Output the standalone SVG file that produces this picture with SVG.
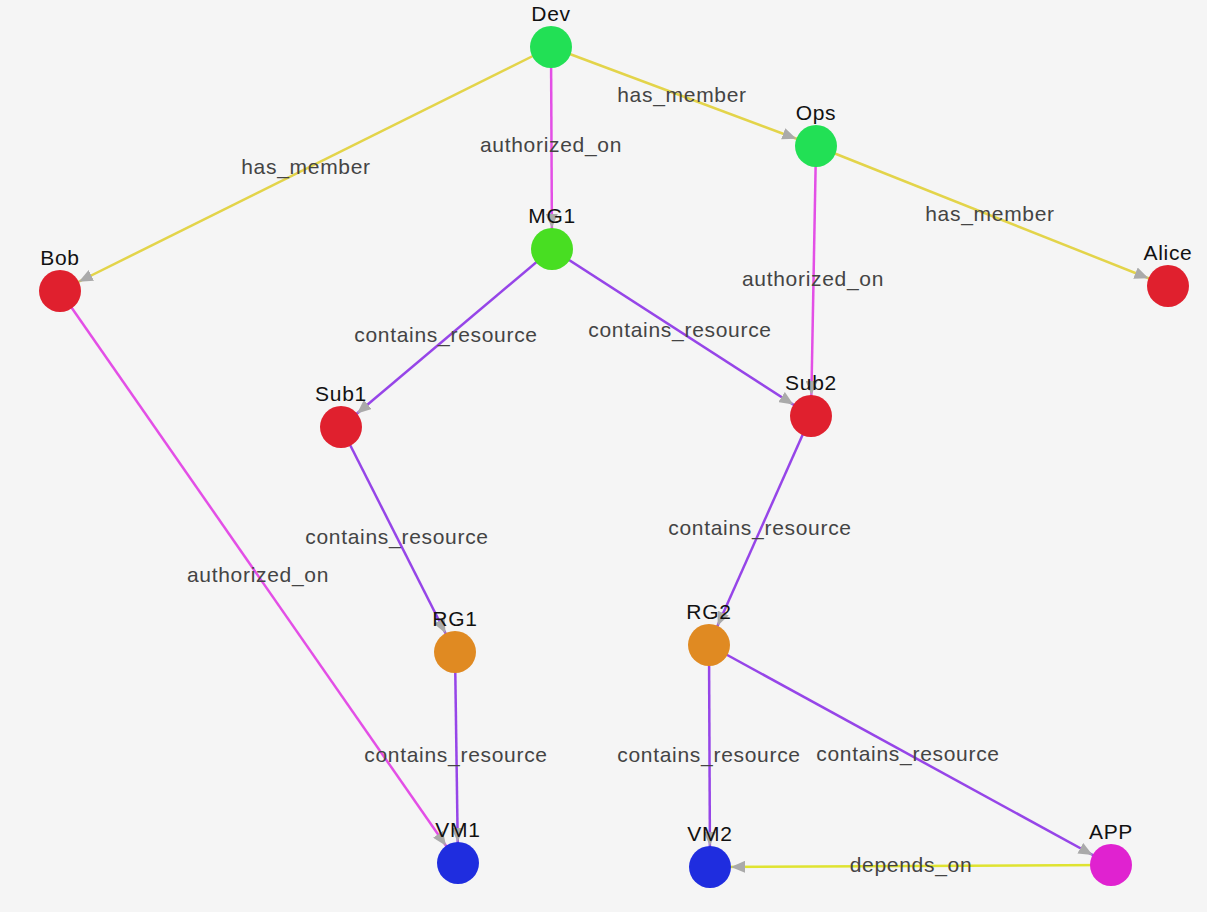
<svg xmlns="http://www.w3.org/2000/svg" width="1207" height="912" viewBox="0 0 1207 912">
<style>
.bg{fill:#f5f5f5}
.e{stroke-width:2.5;fill:none;marker-end:url(#arr)}
.hm{stroke:#e3d44a}
.au{stroke:#e34fe6}
.cr{stroke:#9645e8}
.dp{stroke:#dfe330}
.el{font-family:"Liberation Sans",Arial,sans-serif;font-size:21px;letter-spacing:0.7px;fill:#444;text-anchor:middle}
.nl{font-family:"Liberation Sans",Arial,sans-serif;font-size:21px;letter-spacing:0.7px;fill:#111;text-anchor:middle}
.green{fill:#22e055}
.lime{fill:#48de22}
.red{fill:#e0202e}
.orange{fill:#e08a22}
.blue{fill:#1f2ddf}
.mag{fill:#e022d0}
</style>
<defs>
<marker id="arr" viewBox="0 0 14 12" markerUnits="userSpaceOnUse" markerWidth="14" markerHeight="12" refX="35" refY="6" orient="auto">
<path d="M0,0 L14,6 L0,12 z" fill="#aaaaaa"/>
</marker>
</defs>
<rect class="bg" x="0" y="0" width="1207" height="912"/>
<g id="connectors">
<line class="e hm" x1="551" y1="47" x2="60" y2="291"/>
<line class="e hm" x1="551" y1="47" x2="816" y2="146"/>
<line class="e au" x1="551" y1="47" x2="552" y2="249"/>
<line class="e hm" x1="816" y1="146" x2="1168" y2="286"/>
<line class="e au" x1="816" y1="146" x2="811" y2="416"/>
<line class="e cr" x1="552" y1="249" x2="341" y2="427"/>
<line class="e cr" x1="552" y1="249" x2="811" y2="416"/>
<line class="e cr" x1="341" y1="427" x2="455" y2="652"/>
<line class="e cr" x1="811" y1="416" x2="709" y2="645"/>
<line class="e au" x1="60" y1="291" x2="458" y2="863"/>
<line class="e cr" x1="455" y1="652" x2="458" y2="863"/>
<line class="e cr" x1="709" y1="645" x2="710" y2="867"/>
<line class="e cr" x1="709" y1="645" x2="1111" y2="865"/>
<line class="e dp" x1="1111" y1="865" x2="710" y2="867"/>
<text class="el" x="306" y="174">has_member</text>
<text class="el" x="682" y="102">has_member</text>
<text class="el" x="551" y="152">authorized_on</text>
<text class="el" x="990" y="221">has_member</text>
<text class="el" x="813" y="286">authorized_on</text>
<text class="el" x="446" y="342">contains_resource</text>
<text class="el" x="680" y="337">contains_resource</text>
<text class="el" x="397" y="544">contains_resource</text>
<text class="el" x="760" y="535">contains_resource</text>
<text class="el" x="258" y="582">authorized_on</text>
<text class="el" x="456" y="762">contains_resource</text>
<text class="el" x="709" y="762">contains_resource</text>
<text class="el" x="908" y="761">contains_resource</text>
<text class="el" x="911" y="872">depends_on</text>
</g>
<g id="node-Dev"><circle class="green" cx="551" cy="47" r="21"/><text class="nl" x="551" y="21">Dev</text></g>
<g id="node-Ops"><circle class="green" cx="816" cy="146" r="21"/><text class="nl" x="816" y="120">Ops</text></g>
<g id="node-MG1"><circle class="lime" cx="552" cy="249" r="21"/><text class="nl" x="552" y="223">MG1</text></g>
<g id="node-Bob"><circle class="red" cx="60" cy="291" r="21"/><text class="nl" x="60" y="265">Bob</text></g>
<g id="node-Alice"><circle class="red" cx="1168" cy="286" r="21"/><text class="nl" x="1168" y="260">Alice</text></g>
<g id="node-Sub1"><circle class="red" cx="341" cy="427" r="21"/><text class="nl" x="341" y="401">Sub1</text></g>
<g id="node-Sub2"><circle class="red" cx="811" cy="416" r="21"/><text class="nl" x="811" y="390">Sub2</text></g>
<g id="node-RG1"><circle class="orange" cx="455" cy="652" r="21"/><text class="nl" x="455" y="626">RG1</text></g>
<g id="node-RG2"><circle class="orange" cx="709" cy="645" r="21"/><text class="nl" x="709" y="619">RG2</text></g>
<g id="node-VM1"><circle class="blue" cx="458" cy="863" r="21"/><text class="nl" x="458" y="837">VM1</text></g>
<g id="node-VM2"><circle class="blue" cx="710" cy="867" r="21"/><text class="nl" x="710" y="841">VM2</text></g>
<g id="node-APP"><circle class="mag" cx="1111" cy="865" r="21"/><text class="nl" x="1111" y="839">APP</text></g>
</svg>
